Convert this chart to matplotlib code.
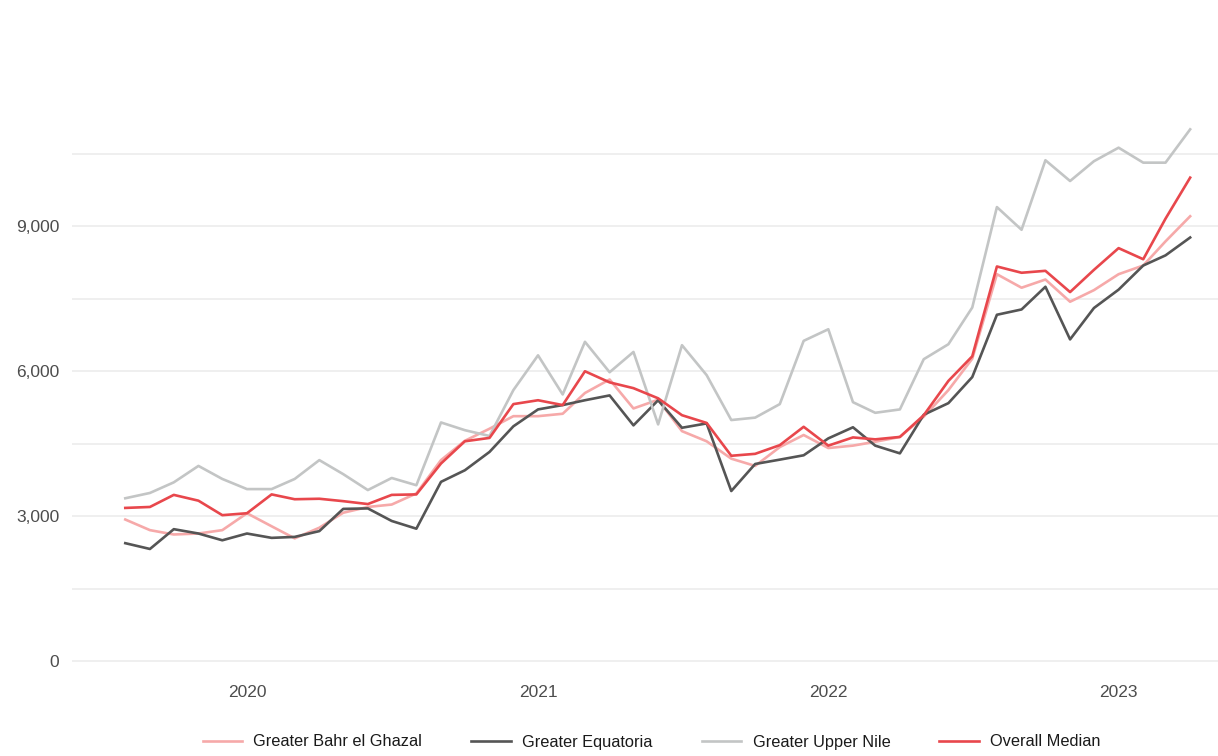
import matplotlib
matplotlib.use("Agg")
import matplotlib.pyplot as plt
import matplotlib.dates as mdates
import matplotlib.ticker as mticker
import pandas as pd

plt.rcParams['font.family'] = ['Liberation Sans', 'DejaVu Sans']

# monthly series, Aug 2019 - Apr 2023
months = pd.date_range("2019-08-01", "2023-04-01", freq="MS")

bahr_el_ghazal = [2930, 2710, 2620, 2640, 2710, 3060, 2790, 2540, 2760, 3070,
                  3190, 3240, 3470, 4160, 4560, 4810, 5070, 5070, 5120, 5550,
                  5830, 5230, 5410, 4760, 4550, 4190, 4040, 4430, 4680, 4410,
                  4460, 4540, 4640, 5060, 5610, 6260, 8010, 7730, 7900, 7440,
                  7680, 8010, 8190, 8690, 9210]
equatoria = [2440, 2320, 2730, 2640, 2500, 2640, 2550, 2570, 2690, 3150,
             3160, 2900, 2740, 3710, 3950, 4330, 4860, 5210, 5300, 5400,
             5500, 4880, 5400, 4830, 4920, 3520, 4080, 4170, 4260, 4610,
             4840, 4460, 4300, 5100, 5340, 5880, 7170, 7280, 7750, 6660,
             7310, 7690, 8190, 8400, 8770]
upper_nile = [3370, 3480, 3700, 4040, 3770, 3560, 3560, 3770, 4160, 3870,
              3540, 3790, 3640, 4940, 4780, 4660, 5610, 6330, 5520, 6610,
              5980, 6400, 4900, 6540, 5920, 4990, 5040, 5320, 6630, 6870,
              5360, 5140, 5210, 6250, 6560, 7320, 9400, 8930, 10370, 9940,
              10350, 10630, 10320, 10320, 11010]
overall_median = [3170, 3190, 3440, 3320, 3020, 3060, 3450, 3350, 3360, 3310,
                  3250, 3440, 3450, 4090, 4550, 4620, 5320, 5400, 5300, 6000,
                  5770, 5650, 5440, 5090, 4930, 4250, 4290, 4470, 4850, 4460,
                  4630, 4590, 4640, 5090, 5800, 6310, 8170, 8040, 8080, 7640,
                  8100, 8550, 8320, 9160, 10010]

series = [
    ("Greater Bahr el Ghazal", bahr_el_ghazal, "#F6A9A9"),
    ("Greater Equatoria", equatoria, "#555555"),
    ("Greater Upper Nile", upper_nile, "#C3C5C5"),
    ("Overall Median", overall_median, "#E8474C"),
]

fig = plt.figure(figsize=(12.18, 7.56), dpi=100)
ax = fig.add_axes([72 / 1218, 68 / 756, 1 - 72 / 1218, 586 / 756])

for name, vals, col in series:
    ax.plot(months, vals, color=col, linewidth=1.9, label=name)

ax.set_xlim(months[0] - pd.Timedelta(days=67), months[-1] + pd.Timedelta(days=35))
ax.set_ylim(-559, 11576)

ax.xaxis.set_major_locator(mdates.YearLocator())
ax.xaxis.set_major_formatter(mdates.DateFormatter("%Y"))
ax.yaxis.set_major_locator(mticker.MultipleLocator(3000))
ax.yaxis.set_minor_locator(mticker.MultipleLocator(1500))
ax.yaxis.set_major_formatter(mticker.FuncFormatter(lambda v, p: f"{int(v):,}"))

ax.grid(axis="y", which="both", color="#EBEBEB", linewidth=1.1)
ax.grid(axis="x", visible=False)
ax.set_axisbelow(True)
for s in ax.spines.values():
    s.set_visible(False)
ax.tick_params(axis="both", which="both", length=0, labelsize=12.5,
               labelcolor="#4D4D4D")
ax.tick_params(axis="y", pad=9)
ax.tick_params(axis="x", pad=-2)

leg = fig.legend(loc="center", ncol=4, frameon=False, fontsize=11.8,
                 handlelength=2.4, handletextpad=0.7, columnspacing=3.0,
                 bbox_to_anchor=(0.535, 1 - 742 / 756),
                 bbox_transform=fig.transFigure)
for t in leg.get_texts():
    t.set_color("#1A1A1A")

fig.savefig("out.png", dpi=100)
